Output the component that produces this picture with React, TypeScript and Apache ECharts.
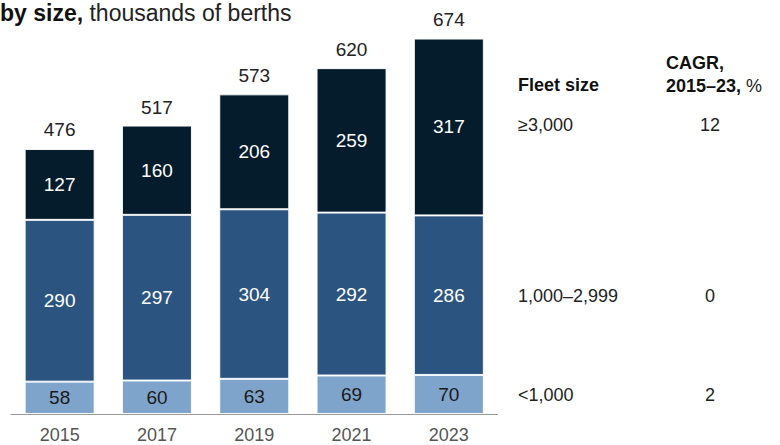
import React, { useEffect, useRef } from "react";
import * as echarts from "echarts";

const years = ["2015", "2017", "2019", "2021", "2023"];
const small = [58, 60, 63, 69, 70];
const mid = [290, 297, 304, 292, 286];
const large = [127, 160, 206, 259, 317];
const totals = [476, 517, 573, 620, 674];

const legendRows = [
  { label: "≥3,000", cagr: "12", y: 125 },
  { label: "1,000–2,999", cagr: "0", y: 296 },
  { label: "<1,000", cagr: "2", y: 395 },
];

const FONT = "'Liberation Sans', Arial, sans-serif";

export default function App() {
  const ref = useRef<HTMLDivElement>(null);
  useEffect(() => {
    if (!ref.current) return;
    const chart = echarts.init(ref.current, undefined, { renderer: "svg" });
    const border = { borderColor: "rgba(255,255,255,0.9)", borderWidth: 1 };
    const segLabel = (color: string) => ({
      show: true,
      position: "inside",
      fontSize: 19,
      fontFamily: FONT,
      color,
    });
    chart.setOption({
      animation: false,
      textStyle: { fontFamily: FONT },
      grid: { left: 11, right: 282.5, top: 23.5, bottom: 31, containLabel: false },
      xAxis: {
        type: "category",
        data: years,
        axisLine: { lineStyle: { color: "#999", width: 1 } },
        axisTick: { show: false },
        axisLabel: { fontSize: 18, color: "#555", margin: 12, fontFamily: FONT },
      },
      yAxis: {
        type: "value",
        min: 0,
        max: 700,
        show: false,
        splitLine: { show: false },
      },
      series: [
        {
          name: "total",
          type: "bar",
          data: totals,
          barWidth: 70,
          barGap: "-100%",
          itemStyle: { color: "rgba(0,0,0,0)" },
          label: {
            show: true,
            position: "top",
            distance: 9,
            fontSize: 19,
            fontFamily: FONT,
            color: "#222",
          },
          silent: true,
        },
        {
          name: "<1,000",
          type: "bar",
          stack: "a",
          data: small,
          barWidth: 70,
          itemStyle: { color: "#7fa4cb", ...border },
          label: segLabel("#1a1a1a"),
        },
        {
          name: "1,000–2,999",
          type: "bar",
          stack: "a",
          data: mid,
          barWidth: 70,
          itemStyle: { color: "#2b5580", ...border },
          label: segLabel("#ffffff"),
        },
        {
          name: "≥3,000",
          type: "bar",
          stack: "a",
          data: large,
          barWidth: 70,
          itemStyle: { color: "#051c2c", ...border },
          label: segLabel("#ffffff"),
        },
      ],
      graphic: [
        {
          type: "text",
          left: 0,
          top: 1,
          style: {
            text: "{b|by size,}{r| thousands of berths}",
            rich: {
              b: { fontSize: 23, fontWeight: "bold", fill: "#111", fontFamily: FONT },
              r: { fontSize: 23, fill: "#222", fontFamily: FONT },
            },
          },
        },
        {
          type: "text",
          x: 518,
          y: 85,
          style: {
            text: "Fleet size",
            fontSize: 18,
            fontWeight: "bold",
            fill: "#111",
            fontFamily: FONT,
            verticalAlign: "middle",
          },
        },
        {
          type: "text",
          x: 666,
          y: 63,
          style: {
            text: "CAGR,",
            fontSize: 18,
            fontWeight: "bold",
            fill: "#111",
            fontFamily: FONT,
            verticalAlign: "middle",
          },
        },
        {
          type: "text",
          x: 666,
          y: 86,
          style: {
            text: "{b|2015–23,}{r| %}",
            verticalAlign: "middle",
            rich: {
              b: { fontSize: 18, fontWeight: "bold", fill: "#111", fontFamily: FONT },
              r: { fontSize: 18, fill: "#222", fontFamily: FONT },
            },
          },
        },
        ...legendRows.flatMap((r) => [
          {
            type: "text",
            x: 518,
            y: r.y,
            style: {
              text: r.label,
              fontSize: 18,
              fill: "#222",
              fontFamily: FONT,
              verticalAlign: "middle",
            },
          },
          {
            type: "text",
            x: 710,
            y: r.y,
            style: {
              text: r.cagr,
              fontSize: 18,
              fill: "#222",
              fontFamily: FONT,
              align: "center",
              verticalAlign: "middle",
            },
          },
        ]),
      ],
    });
    return () => chart.dispose();
  }, []);
  return (
    <div
      ref={ref}
      style={{ position: "fixed", left: 0, top: 0, width: 780, height: 445, background: "#fff" }}
    />
  );
}
